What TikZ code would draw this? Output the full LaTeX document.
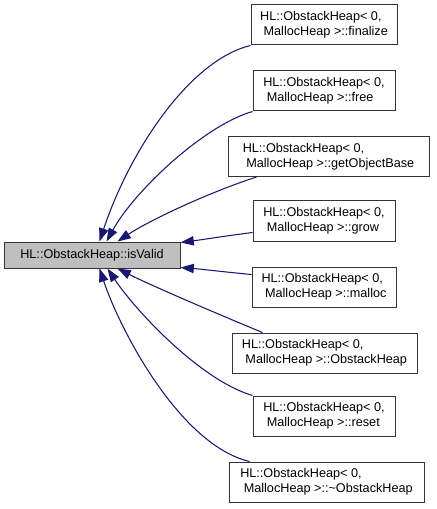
\documentclass[tikz,border=0pt]{standalone}
\usepackage{fontspec}
\setmainfont{Liberation Sans}
\usetikzlibrary{arrows.meta,calc}
\definecolor{edgecol}{HTML}{191970}
\definecolor{boxline}{HTML}{333333}
\definecolor{boxfill}{HTML}{BFBFBF}
\begin{document}
\begin{tikzpicture}[x=0.75pt,y=-0.75pt,
  box/.style={draw=boxline, line width=0.75pt, rectangle, inner sep=1pt, align=left,
    font=\fontsize{9.5}{11.25}\selectfont, minimum height=40*0.75pt},
  edge/.style={draw=edgecol, line width=0.8pt, -{Triangle[length=10pt,width=7pt]}}]
\useasboundingbox (0,0) rectangle (436,509);

\node[box, fill=boxfill, minimum width=176*0.75pt, minimum height=26*0.75pt] (iv) at (92,255) {HL::ObstackHeap::isValid};

\node[box, minimum width=146*0.75pt] (fin) at (324,25) {HL::ObstackHeap< 0,\\\mbox{}\ MallocHeap >::finalize};
\node[box, minimum width=142*0.75pt] (free) at (324,91) {HL::ObstackHeap< 0,\\\mbox{}\ MallocHeap >::free};
\node[box, minimum width=201*0.75pt] (gob) at (328.5,156.5) {HL::ObstackHeap< 0,\\\mbox{}\ MallocHeap >::getObjectBase};
\node[box, minimum width=142*0.75pt] (grow) at (324,221) {HL::ObstackHeap< 0,\\\mbox{}\ MallocHeap >::grow};
\node[box, minimum width=144*0.75pt] (mal) at (324,287) {HL::ObstackHeap< 0,\\\mbox{}\ MallocHeap >::malloc};
\node[box, minimum width=185*0.75pt] (oh) at (324.5,353) {HL::ObstackHeap< 0,\\\mbox{}\ MallocHeap >::ObstackHeap};
\node[box, minimum width=142*0.75pt] (reset) at (324,416) {HL::ObstackHeap< 0,\\\mbox{}\ MallocHeap >::reset};
\node[box, minimum width=195*0.75pt] (dtor) at (326.5,482) {HL::ObstackHeap< 0,\\\mbox{}\ MallocHeap >::\textasciitilde ObstackHeap};

\draw[edge] (fin.south west) .. controls (190,60) and (130,150) .. ($(iv.north west)+(96,0)$);
\draw[edge] (free.south west) .. controls (205,125) and (135,190) .. ($(iv.north west)+(103,0)$);
\draw[edge] ($(gob.south west)+(29,0)$) .. controls (210,192) and (150,220) .. ($(iv.north west)+(114,0)$);
\draw[edge] ($(grow.south west)+(0,-9)$) .. controls (225,236) and (200,240) .. ($(iv.north east)+(0,1)$);
\draw[edge] ($(mal.north west)+(0,8)$) .. controls (225,272) and (200,269) .. ($(iv.south east)+(0,-1)$);
\draw[edge] ($(oh.north west)+(31,0)$) .. controls (220,315) and (150,285) .. ($(iv.south west)+(114,0)$);
\draw[edge] (reset.north west) .. controls (200,380) and (135,310) .. ($(iv.south west)+(104,0)$);
\draw[edge] ($(dtor.north west)+(21,0)$) .. controls (180,445) and (120,330) .. ($(iv.south west)+(96,0)$);
\end{tikzpicture}
\end{document}
